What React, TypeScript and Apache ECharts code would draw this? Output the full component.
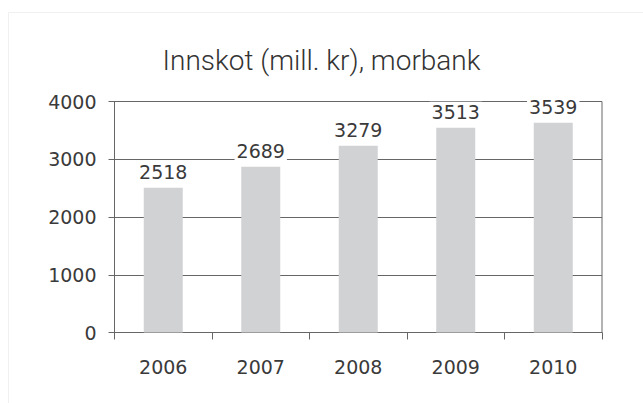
import React, { useEffect, useRef } from "react";
import * as echarts from "echarts";

const categories = ["2006", "2007", "2008", "2009", "2010"];
// bar heights as drawn in the picture
const barValues = [2506, 2869, 3233, 3545, 3631];
// value labels as printed in the picture
const labelTexts = ["2518", "2689", "3279", "3513", "3539"];
const yTicks = { min: 0, max: 4000, interval: 1000 };
const title = "Innskot (mill. kr), morbank";

export default function App() {
  const ref = useRef<HTMLDivElement>(null);
  useEffect(() => {
    if (!ref.current) return;
    const chart = echarts.init(ref.current, null, { renderer: "svg" });
    const font = "DejaVu Sans";
    chart.setOption({
      animation: false,
      backgroundColor: "#ffffff",
      title: {
        text: title,
        left: "center",
        top: 41,
        textStyle: { fontFamily: "Roboto", fontWeight: 300, fontSize: 28, color: "#333333" },
      },
      graphic: [
        {
          type: "rect",
          shape: { x: 8.5, y: 12.5, width: 700, height: 500 },
          style: { fill: "none", stroke: "#f0f0f0", lineWidth: 1 },
          silent: true,
          z: -10,
        },
      ],
      grid: {
        left: 114.5,
        right: 41,
        top: 101.5,
        bottom: 70.5,
        show: true,
        borderColor: "#666666",
        borderWidth: 1,
        backgroundColor: "transparent",
      },
      xAxis: {
        type: "category",
        data: categories,
        boundaryGap: true,
        axisLine: { show: true, lineStyle: { color: "#666666", width: 1 } },
        axisTick: { show: true, length: 7, alignWithLabel: false, lineStyle: { color: "#666666" } },
        axisLabel: { margin: 25, fontFamily: font, fontSize: 19, color: "#3a3a3a" },
        splitLine: { show: false },
      },
      yAxis: {
        type: "value",
        min: yTicks.min,
        max: yTicks.max,
        interval: yTicks.interval,
        axisLine: { show: true, lineStyle: { color: "#666666", width: 1 } },
        axisTick: { show: true, length: 6, lineStyle: { color: "#666666" } },
        axisLabel: {
          margin: 18,
          fontFamily: font,
          fontSize: 19,
          color: "#3a3a3a",
          padding: [4, 0, 0, 0],
          formatter: (v: number) => String(v),
        },
        splitLine: { show: true, lineStyle: { color: "#666666", width: 1 } },
      },
      series: [
        {
          type: "bar",
          data: barValues,
          barWidth: 39,
          itemStyle: { color: "#d1d2d4" },
          label: {
            show: true,
            position: "top",
            distance: 3,
            formatter: (p: any) => labelTexts[p.dataIndex],
            fontFamily: font,
            fontSize: 19,
            color: "#3a3a3a",
            backgroundColor: "#ffffff",
            padding: [1, 2, 3, 2],
          },
        },
      ],
    });
    return () => chart.dispose();
  }, []);
  return (
    <div
      ref={ref}
      style={{ position: "fixed", left: 0, top: 0, width: 643, height: 403 }}
    />
  );
}
